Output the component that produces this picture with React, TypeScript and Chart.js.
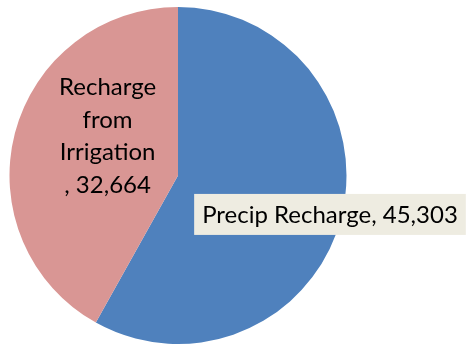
import React, { useEffect, useRef } from "react";
import { Chart, registerables } from "chart.js";

Chart.register(...registerables);

const categories = ["Precip Recharge", "Recharge from Irrigation"];
const values = [45303, 32664];
const colors = ["#4F81BD", "#D99694"];
const labelLines = [["Precip Recharge, 45,303"], ["Recharge", "from", "Irrigation", ", 32,664"]];

const FONT = "24px Lato";

const labelPlugin = {
  id: "sliceLabels",
  afterDatasetsDraw(chart: any) {
    const ctx = chart.ctx;
    const meta = chart.getDatasetMeta(0);
    const arc0 = meta.data[0];
    const cx = arc0.x, cy = arc0.y, r = arc0.outerRadius;
    ctx.save();
    ctx.font = FONT;
    ctx.textBaseline = "middle";
    ctx.textAlign = "center";
    // Precip label with box
    {
      const lx = cx + 0.902 * r;
      const ly = cy + 0.231 * r;
      const text = labelLines[0][0];
      const w = ctx.measureText(text).width;
      const bw = w + 16;
      const bh = 41;
      ctx.fillStyle = "#EEECE1";
      ctx.fillRect(lx - bw / 2, ly - bh / 2, bw, bh);
      ctx.fillStyle = "#000000";
      ctx.fillText(text, lx, ly + 1);
    }
    // Irrigation label
    {
      const lx = cx - 0.418 * r;
      const ly = cy - 0.234 * r;
      const lines = labelLines[1];
      const lh = 32.5;
      ctx.fillStyle = "#000000";
      lines.forEach((t, i) => {
        ctx.fillText(t, lx, ly + (i - (lines.length - 1) / 2) * lh);
      });
    }
    ctx.restore();
  },
};

export default function App() {
  const ref = useRef<HTMLCanvasElement>(null);
  useEffect(() => {
    document.body.style.margin = "0";
    const chart = new Chart(ref.current!, {
      type: "pie",
      data: {
        labels: categories,
        datasets: [
          {
            data: values,
            backgroundColor: colors,
            borderWidth: 0,
          },
        ],
      },
      options: {
        responsive: false,
        animation: false,
        layout: { padding: { left: 9, right: 120, top: 7, bottom: 2 } },
        plugins: {
          legend: { display: false },
          tooltip: { enabled: false },
        },
      },
      plugins: [labelPlugin],
    });
    return () => chart.destroy();
  }, []);
  return (
    <div style={{ position: "absolute", left: 0, top: 0, width: 467, height: 346, background: "#fff" }}>
      <canvas ref={ref} width={467} height={346} />
    </div>
  );
}
